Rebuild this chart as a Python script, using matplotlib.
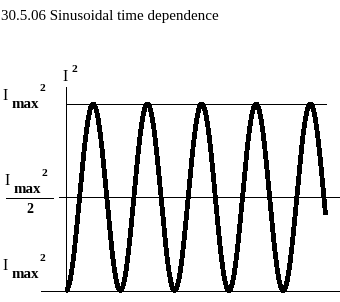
import numpy as np
import matplotlib

matplotlib.use("Agg")
import matplotlib.pyplot as plt
from matplotlib.lines import Line2D

# curve: I^2 = Imax^2 * sin^2(pi * t / period)
imax2 = 1.0
period = 1.0
t_end = 4.78

# horizontal reference levels (fraction of Imax^2) and where they start on the left
levels = [1.0, 0.5, 0.0]
level_starts = [0.0, -0.13, -0.46]
level_ends = [4.79, 5.1, 5.1]
axis_top = 1.09

title = "30.5.06 Sinusoidal time dependence"

W, H = 340, 302
SERIF = ["Liberation Serif", "DejaVu Serif"]

fig = plt.figure(figsize=(W / 100, H / 100), dpi=100)
ax = fig.add_axes([0, 0, 1, 1])
ax.set_axis_off()
# pixel scale: t=0 at x=66, one period = 54.3 px; v=0 at y=290.5, v=1 at y=104
ax.set_xlim(-66 / 54.3, (W - 66) / 54.3)
ax.set_ylim(-(H - 290.5) / 186.5, 290.5 / 186.5)

t = np.linspace(0, t_end, 800)
ax.plot(t, imax2 * np.sin(np.pi * t / period) ** 2, color="black",
        linewidth=2.7, antialiased=False, solid_capstyle="butt")

for level, x0, x1 in zip(levels, level_starts, level_ends):
    ax.hlines(level, x0, x1, color="black", linewidth=0.72, antialiased=False)
ax.vlines(0, 0, axis_top, color="black", linewidth=0.72, antialiased=False)


def put(x, y, s, size, weight="normal"):
    # x, y in pixels from the top-left, y is the baseline
    fig.text(x / W, 1 - y / H, s, fontsize=size * 0.72, fontweight=weight,
             family=SERIF, ha="left", va="baseline")


def imax_label(x, y):
    put(x, y, "I", 16)
    put(x + 10, y + 8, "max", 15, "bold")
    put(x + 37, y - 9, "2", 11.5, "bold")


put(1, 20, title, 15)

# y axis label
put(62, 81, "I", 16)
put(72, 72, "2", 11.5, "bold")

imax_label(2, 100)
imax_label(4, 185)
fig.add_artist(Line2D([6 / W, 53 / W], [1 - 197.5 / H] * 2, color="black",
                      linewidth=0.72, antialiased=False))
put(26, 213, "2", 14, "bold")
imax_label(2, 270)

fig.savefig("out.png", dpi=100, facecolor="white")
